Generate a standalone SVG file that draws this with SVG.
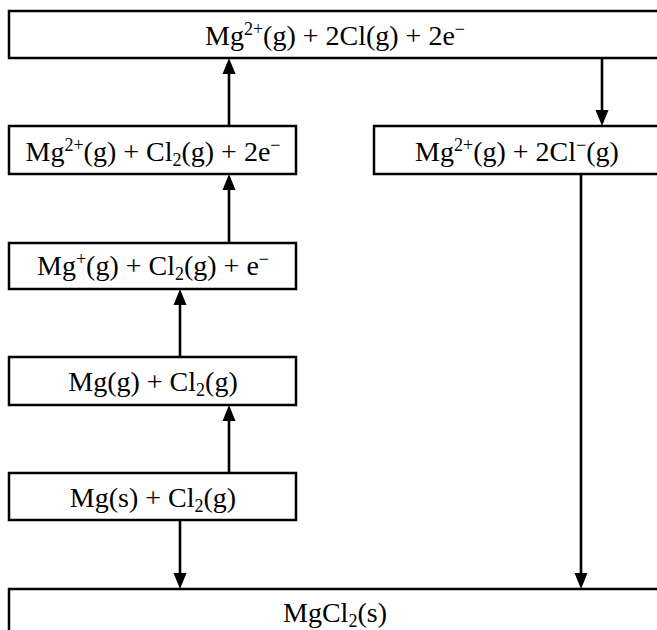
<svg xmlns="http://www.w3.org/2000/svg" width="657" height="630" viewBox="0 0 657 630">
<style>
.box{fill:#fff;stroke:#000;stroke-width:2.5}
.lbl{font-family:"Liberation Serif","Times New Roman",serif;font-size:28px;fill:#000;text-anchor:middle}
.s{font-size:18px}
.arr{stroke:#000;stroke-width:2.6;fill:none;marker-end:url(#ah)}
</style>
<defs>
<marker id="ah" markerUnits="userSpaceOnUse" markerWidth="16" markerHeight="14" viewBox="0 0 16 14" refX="8" refY="7" orient="auto">
<path d="M0,0.5 L16,7 L0,13.5 z" fill="#000"/>
</marker>
</defs>
<rect width="657" height="630" fill="#fff"/>
<g id="connectors">
<line class="arr" x1="229" y1="126" x2="229" y2="66"/>
<line class="arr" x1="229" y1="243" x2="229" y2="182"/>
<line class="arr" x1="180" y1="357" x2="180" y2="297"/>
<line class="arr" x1="229" y1="473" x2="229" y2="413"/>
<line class="arr" x1="180" y1="520" x2="180" y2="581"/>
<line class="arr" x1="602" y1="58" x2="602" y2="118"/>
<line class="arr" x1="581" y1="174" x2="581" y2="581"/>
</g>
<g id="n_top">
<rect class="box" x="9" y="11" width="652" height="47"/>
<text class="lbl" x="335" y="45">Mg<tspan class="s" dy="-10">2+</tspan><tspan dy="10">(g) + 2Cl(g) + 2e</tspan><tspan class="s" dy="-10">−</tspan></text>
</g>
<g id="n_mg2_cl2">
<rect class="box" x="9" y="126" width="287" height="48"/>
<text class="lbl" x="153" y="161">Mg<tspan class="s" dy="-10">2+</tspan><tspan dy="10">(g) + Cl</tspan><tspan class="s" dy="5">2</tspan><tspan dy="-5">(g) + 2e</tspan><tspan class="s" dy="-10">−</tspan></text>
</g>
<g id="n_mg2_2cl">
<rect class="box" x="374" y="126" width="287" height="48"/>
<text class="lbl" x="517" y="161">Mg<tspan class="s" dy="-10">2+</tspan><tspan dy="10">(g) + 2Cl</tspan><tspan class="s" dy="-10">−</tspan><tspan dy="10">(g)</tspan></text>
</g>
<g id="n_mgp">
<rect class="box" x="9" y="243" width="287" height="46"/>
<text class="lbl" x="153" y="275">Mg<tspan class="s" dy="-10">+</tspan><tspan dy="10">(g) + Cl</tspan><tspan class="s" dy="5">2</tspan><tspan dy="-5">(g) + e</tspan><tspan class="s" dy="-10">−</tspan></text>
</g>
<g id="n_mgg">
<rect class="box" x="9" y="357" width="287" height="48"/>
<text class="lbl" x="153" y="391">Mg(g) + Cl<tspan class="s" dy="5">2</tspan><tspan dy="-5">(g)</tspan></text>
</g>
<g id="n_mgs">
<rect class="box" x="9" y="473" width="287" height="47"/>
<text class="lbl" x="153" y="507">Mg(s) + Cl<tspan class="s" dy="5">2</tspan><tspan dy="-5">(g)</tspan></text>
</g>
<g id="n_mgcl2">
<rect class="box" x="9" y="589" width="652" height="47"/>
<text class="lbl" x="335" y="622">MgCl<tspan class="s" dy="5">2</tspan><tspan dy="-5">(s)</tspan></text>
</g>
</svg>
